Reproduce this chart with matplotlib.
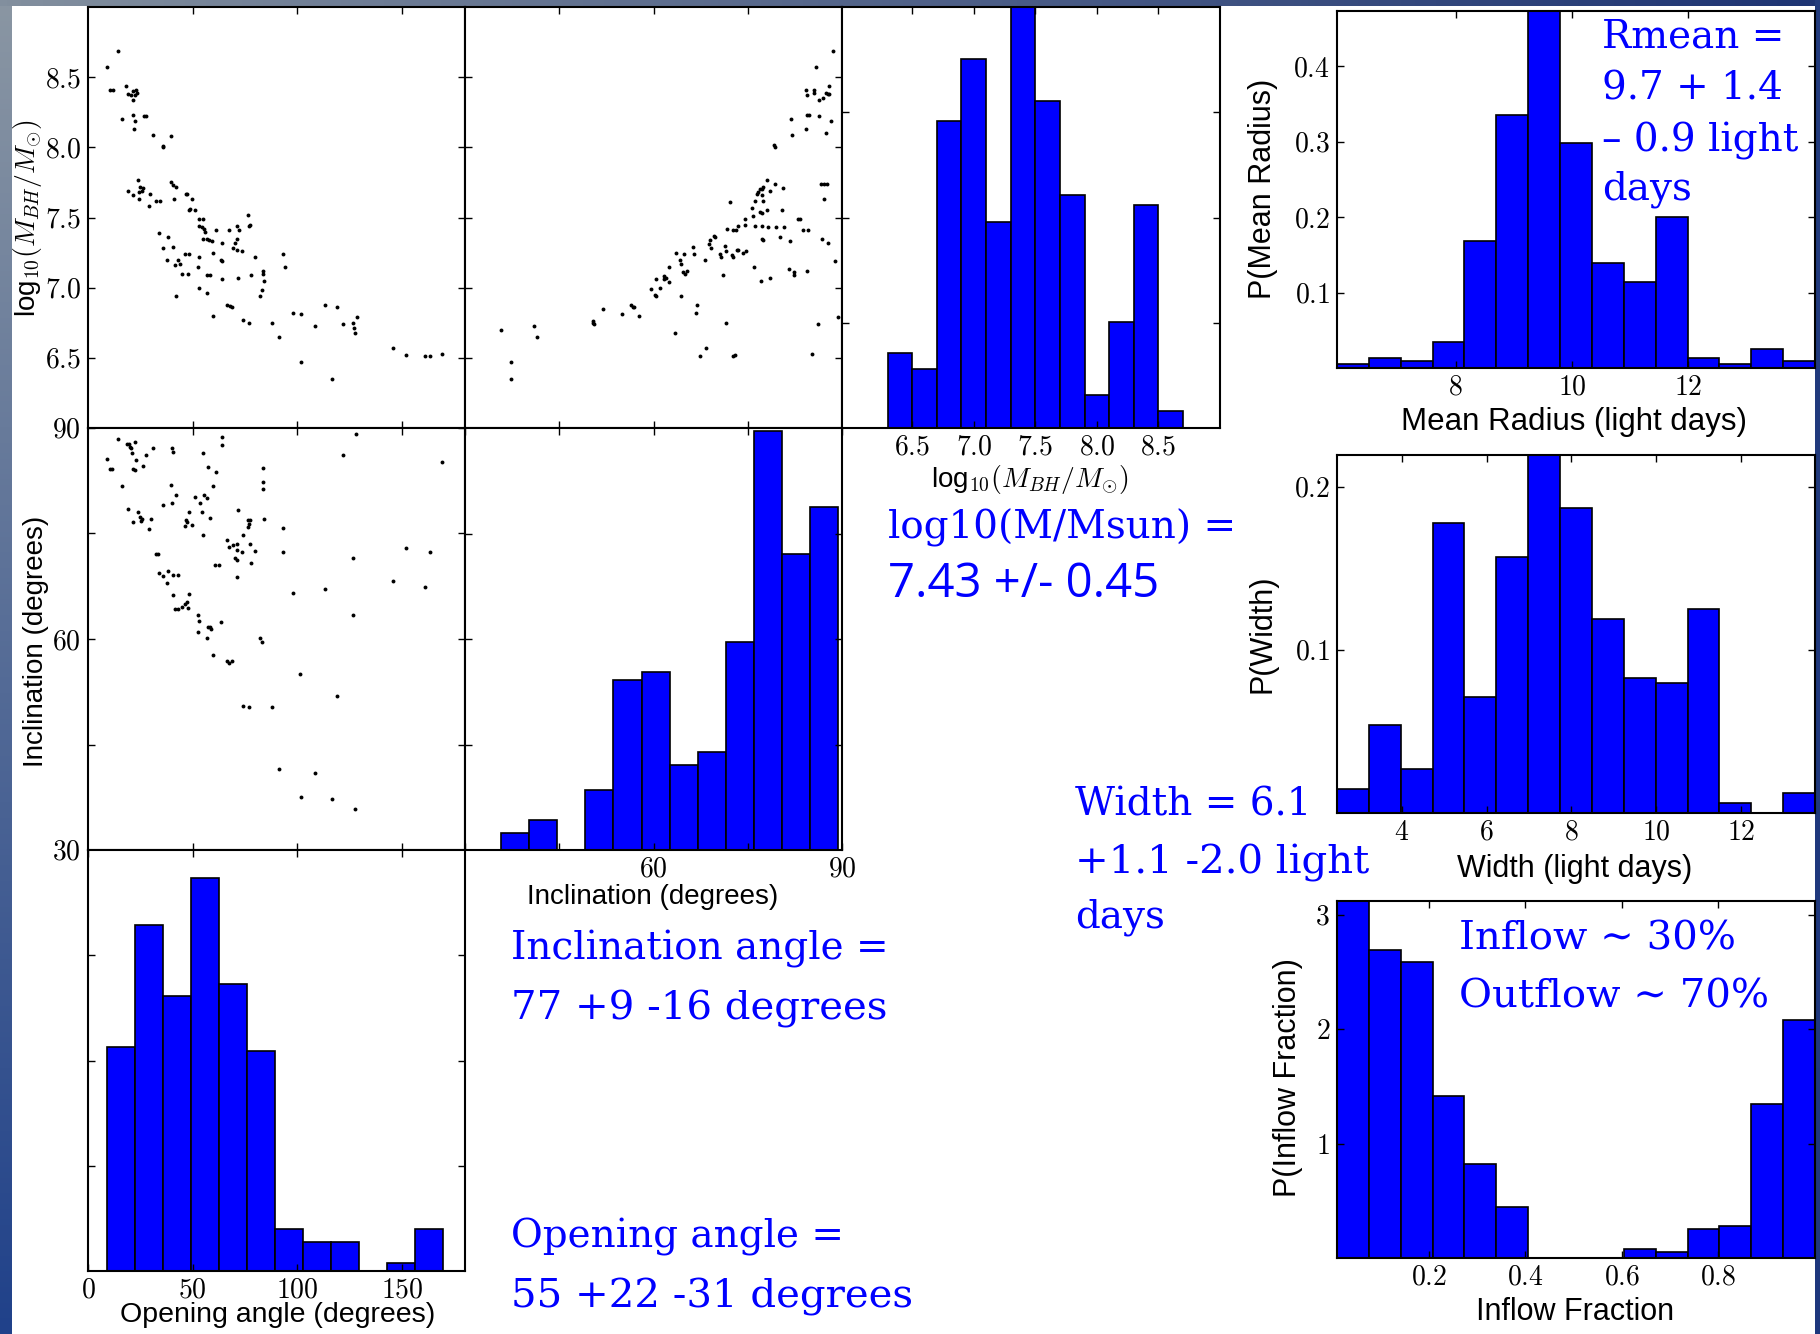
import numpy as np
import matplotlib
matplotlib.use('Agg')
import matplotlib.pyplot as plt

# ---------------- data ----------------
# scatter: opening angle vs log10 M
open_A = [9.2, 14.2, 10.5, 11.8, 18.1, 19.2, 20.3, 21.3, 21.6, 22.9, 23.2, 22.4, 16.1, 21.6, 22.4, 22.0,
          26.7, 27.7, 30.9, 39.5, 35.6, 36.0, 23.7, 19.3, 21.3, 24.8, 25.6, 24.5, 26.1, 24.4, 29.6, 29.1,
          32.5, 34.4, 39.6, 40.7, 42.0, 41.1, 46.6, 47.4, 49.5, 48.4, 48.7, 51.1, 53.2, 55.0, 53.2, 54.3,
          55.4, 55.9, 54.7, 57.0, 58.0, 59.1, 61.1, 59.8, 63.8, 63.3, 63.8, 67.5, 71.0, 72.3, 71.3, 70.2,
          69.4, 71.0, 73.4, 76.2, 77.0, 77.4, 34.0, 36.0, 38.4, 40.7, 41.6, 43.2, 43.9, 44.7, 46.3, 48.1,
          47.9, 37.6, 42.0, 52.8, 52.7, 52.8, 56.7, 57.0, 58.3, 63.8, 59.8, 66.2, 67.8, 68.6, 71.8, 74.2,
          77.0, 77.7, 79.9, 82.1, 82.9, 83.4, 83.7, 84.0, 87.7, 91.4, 93.3, 93.9, 97.7, 101.6, 101.9, 108.4,
          113.2, 116.3, 119.0, 121.6, 126.7, 127.0, 127.5, 128.3, 145.8, 151.8, 160.9, 163.3, 169.2]
logm_A = [8.57, 8.69, 8.41, 8.41, 8.44, 8.38, 8.37, 8.34, 8.40, 8.41, 8.39, 8.37, 8.20, 8.23, 8.19, 8.13,
          8.22, 8.22, 8.09, 8.08, 8.01, 8.00, 7.77, 7.69, 7.66, 7.72, 7.69, 7.68, 7.71, 7.63, 7.67, 7.58,
          7.62, 7.62, 7.75, 7.73, 7.72, 7.63, 7.67, 7.67, 7.63, 7.55, 7.56, 7.55, 7.49, 7.49, 7.44, 7.43,
          7.42, 7.40, 7.35, 7.35, 7.34, 7.33, 7.41, 7.25, 7.32, 7.20, 7.19, 7.41, 7.44, 7.41, 7.35, 7.32,
          7.28, 7.27, 7.26, 7.52, 7.44, 7.45, 7.39, 7.28, 7.36, 7.29, 7.16, 7.20, 7.17, 7.10, 7.24, 7.24,
          7.10, 7.20, 6.94, 7.22, 7.15, 7.00, 6.96, 7.09, 7.09, 7.06, 6.80, 6.88, 6.87, 6.86, 7.07, 6.77,
          6.75, 7.09, 7.22, 6.94, 6.98, 7.12, 7.10, 7.05, 6.75, 6.65, 7.24, 7.15, 6.82, 6.81, 6.47, 6.73,
          6.88, 6.35, 6.86, 6.74, 6.75, 6.71, 6.68, 6.79, 6.57, 6.52, 6.51, 6.51, 6.53]

# scatter: inclination vs log10 M
incl_B = [35.8, 37.3, 37.3, 41.0, 41.4, 50.3, 50.4, 50.5, 52.0, 55.0, 56.4, 56.7, 56.9, 57.7, 59.6, 60.2,
          60.4, 61.0, 60.4, 61.6, 61.7, 62.0, 62.5, 62.5, 63.6, 64.2, 64.3, 64.7, 65.0, 65.3, 64.9, 66.3,
          66.5, 64.3, 63.4, 66.9, 66.8, 67.4, 68.4, 68.2, 68.8, 69.0, 69.1, 69.6, 69.8, 70.6, 70.7, 71.5,
          71.4, 71.7, 71.0, 71.5, 72.2, 72.5, 72.6, 73.3, 73.5, 74.2, 74.8, 72.6, 73.0, 72.7, 73.1, 73.5,
          74.6, 74.6, 75.6, 75.9, 76.2, 76.4, 76.7, 76.9, 77.2, 77.5, 77.2, 77.4, 76.9, 77.2, 78.1, 79.3,
          78.5, 80.6, 78.1, 80.4, 76.2, 77.2, 78.3, 79.5, 80.7, 76.0, 77.1, 78.5, 77.2, 77.4, 80.1, 81.7,
          81.5, 82.4, 82.4, 83.0, 83.3, 83.8, 84.6, 84.4, 85.3, 86.2, 86.8, 87.7, 87.1, 86.6, 87.1, 87.6,
          88.9, 89.3, 79.2, 79.3, 81.9, 82.1, 84.2, 84.4, 84.8, 86.4, 88.2, 87.4, 84.3, 84.4, 85.6, 85.6,
          86.4, 87.0, 87.5, 87.8, 87.9, 88.0, 85.8, 88.6]
logm_B = [6.70, 6.47, 6.35, 6.73, 6.65, 6.75, 6.76, 6.74, 6.85, 6.81, 6.88, 6.86, 6.86, 6.80, 6.99, 6.95,
          6.94, 7.00, 7.06, 7.08, 7.06, 7.07, 7.04, 7.15, 7.25, 7.20, 7.17, 7.11, 7.10, 7.12, 7.24, 7.29,
          7.24, 6.94, 6.68, 6.88, 6.82, 6.51, 6.57, 7.20, 7.31, 7.34, 7.28, 7.37, 7.36, 7.24, 7.22, 7.26,
          7.30, 7.42, 7.09, 6.75, 7.61, 7.23, 7.22, 7.27, 7.27, 7.25, 7.26, 6.51, 6.52, 7.41, 7.41, 7.44,
          7.45, 7.49, 7.57, 7.51, 7.62, 7.67, 7.68, 7.70, 7.70, 7.72, 7.66, 7.62, 7.54, 7.53, 7.77, 7.74,
          7.69, 7.71, 7.55, 7.55, 7.44, 7.44, 7.43, 7.43, 7.43, 7.15, 7.05, 7.07, 7.35, 7.34, 7.36, 7.33,
          7.13, 7.11, 7.09, 7.49, 7.49, 7.41, 7.41, 7.12, 6.53, 6.74, 7.35, 7.32, 7.63, 7.74, 7.74, 7.74,
          7.19, 6.79, 8.02, 8.00, 8.20, 8.09, 8.13, 8.23, 8.23, 8.22, 8.19, 8.10, 8.41, 8.37, 8.41, 8.39,
          8.34, 8.35, 8.39, 8.38, 8.44, 8.38, 8.57, 8.69]

# scatter: opening angle vs inclination
open_C = [9.2, 10.5, 11.5, 14.2, 16.1, 18.5, 19.7, 20.1, 20.4, 20.9, 22.4, 22.8, 21.7, 22.4, 26.4, 27.7,
          30.9, 18.9, 21.3, 23.7, 24.8, 25.6, 25.1, 29.9, 29.1, 36.0, 39.6, 40.0, 40.2, 40.4, 41.9, 32.5,
          33.5, 34.0, 35.6, 37.6, 38.4, 40.7, 43.2, 40.4, 41.5, 43.2, 44.7, 46.3, 47.1, 48.2, 47.9, 46.6,
          47.4, 48.4, 49.5, 46.3, 51.1, 53.5, 54.7, 54.3, 55.4, 54.7, 57.0, 57.5, 58.3, 59.8, 61.1, 63.8,
          63.8, 52.7, 52.8, 52.7, 56.7, 57.5, 58.3, 58.6, 59.8, 63.3, 60.6, 62.5, 66.2, 67.5, 69.4, 71.3,
          71.0, 70.2, 71.0, 73.4, 71.0, 66.2, 67.5, 68.6, 71.8, 73.9, 76.5, 77.0, 77.4, 76.5, 77.4, 77.7,
          79.9, 83.4, 83.4, 83.4, 84.0, 82.1, 82.9, 74.2, 77.0, 87.7, 93.3, 93.3, 91.4, 97.7, 101.2, 101.9,
          108.4, 113.2, 116.3, 119.0, 121.6, 126.7, 126.7, 127.5, 128.0, 145.8, 151.8, 160.9, 163.3, 169.2]
incl_C = [85.6, 84.1, 84.1, 88.4, 81.8, 87.7, 87.7, 87.3, 87.1, 86.4, 88.0, 85.5, 84.2, 84.0, 84.6, 86.2,
          87.2, 78.5, 76.7, 78.0, 77.4, 77.1, 76.8, 77.1, 75.6, 79.1, 81.9, 79.3, 87.1, 86.6, 80.5, 72.1,
          72.1, 69.4, 69.0, 68.0, 69.7, 69.1, 69.1, 66.3, 64.2, 64.2, 64.6, 65.0, 65.2, 66.4, 64.4, 76.9,
          76.7, 78.1, 76.2, 76.1, 80.2, 79.4, 74.8, 78.1, 80.5, 86.5, 80.0, 84.4, 77.2, 81.7, 83.8, 88.7,
          87.6, 63.4, 62.5, 61.0, 60.2, 61.7, 61.7, 61.4, 57.7, 62.4, 70.5, 70.5, 74.1, 73.1, 73.4, 73.5,
          72.6, 71.5, 71.3, 72.4, 68.8, 56.9, 56.6, 56.9, 78.4, 74.8, 76.9, 76.4, 76.9, 75.9, 73.5, 70.8,
          72.5, 84.3, 82.3, 81.3, 77.0, 60.2, 59.6, 50.5, 50.4, 50.4, 75.8, 72.3, 41.5, 66.6, 55.0, 37.6,
          41.0, 67.1, 37.3, 51.9, 86.1, 71.5, 63.4, 35.9, 89.1, 68.2, 72.9, 67.4, 72.4, 85.1]

# histograms (bin edges and bar heights)
logm_edges = np.linspace(6.3, 8.7, 13)
logm_hist = [0.71, 0.56, 2.92, 3.51, 1.96, 4.05, 3.11, 2.21, 0.31, 1.01, 2.12, 0.16]
incl_edges = np.linspace(35.8, 89.3, 13)
incl_hist = [0.165, 0.286, 0.0, 0.571, 1.61, 1.69, 0.81, 0.93, 1.97, 3.97, 2.81, 3.25]
open_edges = np.linspace(9.2, 169.6, 13)
open_hist = [2.13, 3.29, 2.61, 3.73, 2.73, 2.09, 0.40, 0.28, 0.28, 0.0, 0.08, 0.40]
rmean_edges = np.linspace(5.96, 14.18, 16)
rmean_hist = [0.005, 0.013, 0.009, 0.034, 0.168, 0.335, 0.48, 0.298, 0.139, 0.114, 0.200, 0.013, 0.005, 0.025, 0.009]
width_edges = np.linspace(2.47, 13.75, 16)
width_hist = [0.015, 0.054, 0.027, 0.178, 0.071, 0.157, 0.225, 0.187, 0.119, 0.083, 0.080, 0.125, 0.006, 0.0, 0.012]
inflow_edges = np.linspace(0.01, 1.0, 16)
inflow_hist = [3.2, 2.69, 2.59, 1.42, 0.82, 0.45, 0.0, 0.0, 0.0, 0.08, 0.05, 0.25, 0.28, 1.35, 2.08]

# ---------------- figure ----------------
plt.rcParams['font.family'] = ['Liberation Sans', 'DejaVu Sans']
plt.rcParams['mathtext.fontset'] = 'cm'

W, H = 1820, 1334
fig = plt.figure(figsize=(W / 100, H / 100), dpi=100)
fig.patch.set_facecolor('white')


def px_axes(x0, y0, x1, y1, **kw):
    return fig.add_axes([x0 / W, 1 - y1 / H, (x1 - x0) / W, (y1 - y0) / H], **kw)


# slide background strips
def strip(x0, y0, x1, y1, c0, c1, horizontal):
    a = px_axes(x0, y0, x1, y1)
    a.set_axis_off()
    t = np.linspace(0, 1, 256)
    cols = np.array(c0)[None, :] * (1 - t[:, None]) + np.array(c1)[None, :] * t[:, None]
    img = cols[None, :, :] if horizontal else cols[:, None, :]
    a.imshow(img / 255.0, aspect='auto', extent=[0, 1, 0, 1], origin='upper')


strip(0, 0, 12, H, (138, 150, 163), (32, 65, 138), False)
strip(0, 0, W, 6, (130, 143, 158), (30, 52, 115), True)
strip(1815, 0, W, H, (35, 60, 125), (30, 55, 125), False)

BLUE = '#0000ff'
TICKSIZE = 20


def m(v):
    return '' if v == '' else '$%s$' % v


def style(ax, xt, xl, yt, yl):
    ax.set_xticks(xt)
    ax.set_xticklabels([m(v) for v in xl])
    ax.set_yticks(yt)
    ax.set_yticklabels([m(v) for v in yl])
    ax.tick_params(direction='in', top=True, right=True, length=5, width=1,
                   labelsize=TICKSIZE, pad=5)
    for s in ax.spines.values():
        s.set_linewidth(1.5)


def hist(ax, edges, heights):
    edges = np.asarray(edges)
    ax.bar(edges[:-1], heights, width=np.diff(edges), align='edge',
           color=BLUE, edgecolor='black', linewidth=1.2)


# corner grid geometry (pixels)
cx = [88, 465, 842, 1220]
ry = [7, 428, 850, 1271]

# row 0
axA = px_axes(cx[0], ry[0], cx[1], ry[1])
axA.plot(open_A, logm_A, 'o', color='black', ms=2.8, mew=0)
axA.set_xlim(0, 180); axA.set_ylim(6.0, 9.0)
style(axA, [50, 100, 150], ['', '', ''], [6.5, 7.0, 7.5, 8.0, 8.5], ['6.5', '7.0', '7.5', '8.0', '8.5'])

axB = px_axes(cx[1], ry[0], cx[2], ry[1])
axB.plot(incl_B, logm_B, 'o', color='black', ms=2.8, mew=0)
axB.set_xlim(30, 90); axB.set_ylim(6.0, 9.0)
style(axB, [45, 60, 75], ['', '', ''], [6.5, 7.0, 7.5, 8.0, 8.5], ['', '', '', '', ''])

axM = px_axes(cx[2], ry[0], cx[3], ry[1])
hist(axM, logm_edges, logm_hist)
axM.set_xlim(5.93, 9.0); axM.set_ylim(0, 4)
style(axM, [6.5, 7.0, 7.5, 8.0, 8.5], ['6.5', '7.0', '7.5', '8.0', '8.5'], [1, 2, 3], ['', '', ''])

# row 1
axC = px_axes(cx[0], ry[1], cx[1], ry[2])
axC.plot(open_C, incl_C, 'o', color='black', ms=2.8, mew=0)
axC.set_xlim(0, 180); axC.set_ylim(30, 90)
style(axC, [50, 100, 150], ['', '', ''], [30, 45, 60, 75, 90], ['30', '', '60', '', '90'])

axI = px_axes(cx[1], ry[1], cx[2], ry[2])
hist(axI, incl_edges, incl_hist)
axI.set_xlim(30, 90); axI.set_ylim(0, 4)
style(axI, [30, 45, 60, 75, 90], ['', '', '60', '', '90'], [1, 2, 3], ['', '', ''])

# row 2
axO = px_axes(cx[0], ry[2], cx[1], ry[3])
hist(axO, open_edges, open_hist)
axO.set_xlim(0, 180); axO.set_ylim(0, 4)
style(axO, [0, 50, 100, 150], ['0', '50', '100', '150'], [1, 2, 3], ['', '', ''])

# right column
axR = px_axes(1337, 11, 1815, 368)
hist(axR, rmean_edges, rmean_hist)
axR.set_xlim(5.96, 14.18); axR.set_ylim(0, 0.473)
style(axR, [8, 10, 12], ['8', '10', '12'], [0.1, 0.2, 0.3, 0.4], ['0.1', '0.2', '0.3', '0.4'])

axW = px_axes(1337, 455, 1815, 813)
hist(axW, width_edges, width_hist)
axW.set_xlim(2.47, 13.75); axW.set_ylim(0, 0.2196)
style(axW, [4, 6, 8, 10, 12], ['4', '6', '8', '10', '12'], [0.1, 0.2], ['0.1', '0.2'])

axF = px_axes(1337, 901, 1815, 1258)
hist(axF, inflow_edges, inflow_hist)
axF.set_xlim(0.01, 1.0); axF.set_ylim(0, 3.12)
style(axF, [0.2, 0.4, 0.6, 0.8], ['0.2', '0.4', '0.6', '0.8'], [1, 2, 3], ['1', '2', '3'])


# axis labels (placed in pixels)
def ptext(x, y, s, **kw):
    return fig.text(x / W, 1 - y / H, s, **kw)


LOGM = r'log$_{10}(M_{BH}/M_{\odot})$'
ptext(28, 218, LOGM, rotation=90, ha='center', va='center', fontsize=20)
ptext(36, 641, 'Inclination (degrees)', rotation=90, ha='center', va='center', fontsize=20)
ptext(278, 1315, 'Opening angle (degrees)', ha='center', va='center', fontsize=20.5)
ptext(653, 897, 'Inclination (degrees)', ha='center', va='center', fontsize=20)
ptext(1030, 479, LOGM, ha='center', va='center', fontsize=20)

ptext(1263, 189, 'P(Mean Radius)', rotation=90, ha='center', va='center', fontsize=22)
ptext(1263, 634, 'P(Width)', rotation=90, ha='center', va='center', fontsize=22)
ptext(1288, 1078, 'P(Inflow Fraction)', rotation=90, ha='center', va='center', fontsize=22)
ptext(1574, 422, 'Mean Radius (light days)', ha='center', va='center', fontsize=22.5)
ptext(1575, 869, 'Width (light days)', ha='center', va='center', fontsize=22)
ptext(1575, 1312, 'Inflow Fraction', ha='center', va='center', fontsize=22)

# blue annotations
SER = dict(color=BLUE, fontsize=28, family=['DejaVu Serif'], ha='left', va='baseline')
ptext(888, 538, 'log10(M/Msun) =', **SER)
ptext(888, 597, '7.43 +/- 0.45', color=BLUE, fontsize=34, family=['Open Sans', 'DejaVu Sans'],
      ha='left', va='baseline')
ptext(1075, 815, 'Width = 6.1', **SER)
ptext(1075, 873, '+1.1 -2.0 light', **dict(SER, fontsize=29))
ptext(1075, 928, 'days', **SER)
ptext(511, 960, 'Inclination angle =', **SER)
ptext(511, 1019, '77 +9 -16 degrees', **dict(SER, fontsize=29))
ptext(511, 1248, 'Opening angle =', **SER)
ptext(511, 1307, '55 +22 -31 degrees', **dict(SER, fontsize=29))
ptext(1602, 48, 'Rmean =', **SER)
ptext(1602, 100, '9.7 + 1.4', **SER)
ptext(1602, 152, '\u2013 0.9 light', **SER)
ptext(1602, 200, 'days', **SER)
ptext(1459, 950, 'Inflow \u223c 30%', **dict(SER, fontsize=29))
ptext(1459, 1008, 'Outflow \u223c 70%', **dict(SER, fontsize=29))

fig.savefig('out.png', dpi=100, facecolor='white')
